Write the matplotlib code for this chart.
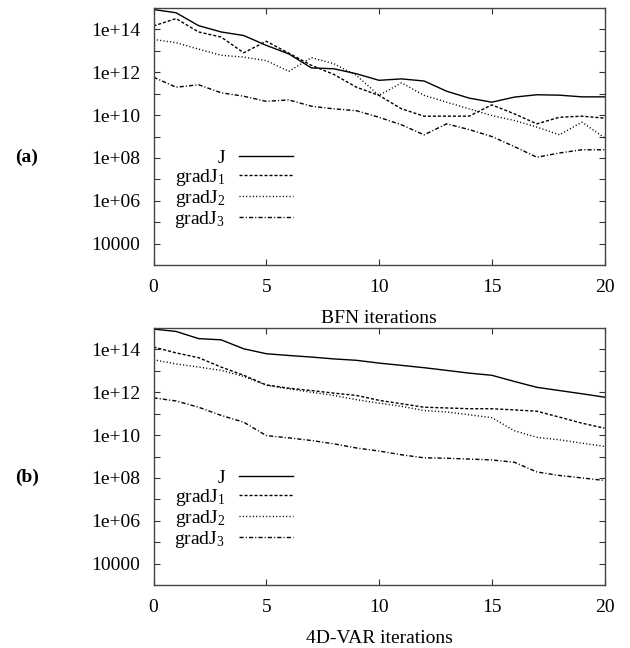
import numpy as np
import matplotlib
matplotlib.use("Agg")
import matplotlib.pyplot as plt
from matplotlib.ticker import FixedLocator, FuncFormatter, NullLocator

plt.rcParams['font.family'] = ['Liberation Serif', 'DejaVu Serif']
plt.rcParams['mathtext.fontset'] = 'custom'
plt.rcParams['mathtext.rm'] = 'Liberation Serif'
plt.rcParams['mathtext.it'] = 'Liberation Serif'
plt.rcParams['mathtext.bf'] = 'Liberation Serif:bold'

iterations = list(range(21))

# Panel (a): BFN
bfn_J = [8.5e14, 6.0e14, 1.5e14, 7.6e13, 5.2e13, 1.8e13, 7.2e12, 1.6e12, 1.45e12, 8.5e11,
         4.2e11, 4.9e11, 3.9e11, 1.3e11, 6.2e10, 4.0e10, 6.9e10, 8.9e10, 8.5e10, 7.1e10, 7.1e10]
bfn_g1 = [1.45e14, 3.2e14, 7.6e13, 4.4e13, 8.1e12, 2.8e13, 7.8e12, 2.1e12, 7.9e11, 2.0e11,
          8.3e10, 1.95e10, 8.9e9, 8.9e9, 8.9e9, 3.0e10, 1.15e10, 3.9e9, 7.9e9, 8.9e9, 7.2e9]
bfn_g2 = [3.4e13, 2.4e13, 1.2e13, 6.2e12, 5.1e12, 3.5e12, 1.1e12, 4.8e12, 2.5e12, 7.1e11,
          8.3e10, 3.2e11, 8.3e10, 4.0e10, 1.95e10, 9.5e9, 5.6e9, 2.75e9, 1.2e9, 4.7e9, 8.7e8]
bfn_g3 = [5.9e11, 2.0e11, 2.6e11, 1.1e11, 7.6e10, 4.4e10, 5.1e10, 2.6e10, 1.95e10, 1.6e10,
          7.9e9, 3.5e9, 1.2e9, 3.9e9, 2.1e9, 1.0e9, 3.4e8, 1.07e8, 1.7e8, 2.4e8, 2.4e8]

# Panel (b): 4D-VAR
var_J = [8.9e14, 6.9e14, 3.2e14, 2.8e14, 1.07e14, 6.3e13, 5.2e13, 4.4e13, 3.6e13, 3.1e13,
         2.3e13, 1.8e13, 1.4e13, 1.05e13, 7.8e12, 6.2e12, 3.2e12, 1.7e12, 1.2e12, 8.5e11, 5.9e11]
var_g1 = [1.3e14, 6.9e13, 4.1e13, 1.5e13, 6.2e12, 2.2e12, 1.55e12, 1.2e12, 9.1e11, 7.1e11,
          4.2e11, 2.9e11, 2.0e11, 1.85e11, 1.7e11, 1.7e11, 1.5e11, 1.3e11, 6.9e10, 3.6e10, 2.1e10]
var_g2 = [3.3e13, 2.1e13, 1.5e13, 1.05e13, 5.5e12, 2.1e12, 1.45e12, 1.0e12, 7.1e11, 4.5e11,
          3.1e11, 2.2e11, 1.4e11, 1.2e11, 8.9e10, 6.5e10, 1.6e10, 7.9e9, 6.0e9, 4.2e9, 2.95e9]
var_g3 = [5.5e11, 3.9e11, 2.0e11, 8.3e10, 4.0e10, 9.5e9, 7.4e9, 5.6e9, 3.9e9, 2.5e9,
          1.8e9, 1.2e9, 8.7e8, 8.3e8, 7.6e8, 6.9e8, 5.4e8, 1.9e8, 1.3e8, 1.0e8, 7.6e7]

series_labels = ['J', 'gradJ$_1$', 'gradJ$_2$', 'gradJ$_3$']
xticks = [0, 5, 10, 15, 20]
ytick_values = [1e4, 1e6, 1e8, 1e10, 1e12, 1e14]
ytick_labels = ['10000', '1e+06', '1e+08', '1e+10', '1e+12', '1e+14']
yminor_values = [1e5, 1e7, 1e9, 1e11, 1e13]
panel_tags = ['(a)', '(b)']
xlabels = ['BFN iterations', '4D-VAR iterations']

styles = [
    dict(linestyle='-'),
    dict(linestyle=(0, (2.2, 1.4))),
    dict(linestyle=(0, (0.8, 1.6))),
    dict(linestyle=(0, (3.0, 1.5, 0.8, 1.5))),
]

fig = plt.figure(figsize=(6.3, 6.48), dpi=100)
W, H = 630, 648
axes_boxes = [(153.5, 8, 604.5, 265), (153.5, 328, 604.5, 585)]
tag_y = [157, 477]
panels = [(bfn_J, bfn_g1, bfn_g2, bfn_g3), (var_J, var_g1, var_g2, var_g3)]

FS = 14
for k, (box, data) in enumerate(zip(axes_boxes, panels)):
    x0, y0, x1, y1 = box
    ax = fig.add_axes([x0 / W, 1 - y1 / H, (x1 - x0) / W, (y1 - y0) / H])
    for series, lab, st in zip(data, series_labels, styles):
        ax.plot(iterations, series, color='black', linewidth=1.0, label=lab, **st)
    ax.set_yscale('log')
    ax.set_xlim(0, 20)
    ax.set_ylim(1e3, 1e15)
    ax.xaxis.set_major_locator(FixedLocator(xticks))
    ax.xaxis.set_minor_locator(NullLocator())
    ax.yaxis.set_major_locator(FixedLocator(ytick_values))
    ax.yaxis.set_major_formatter(FuncFormatter(lambda v, p: ytick_labels[ytick_values.index(v)] if v in ytick_values else ''))
    ax.yaxis.set_minor_locator(FixedLocator(yminor_values))
    ax.yaxis.set_minor_formatter(FuncFormatter(lambda v, p: ''))
    ax.tick_params(which='both', direction='in', top=True, right=True, length=4.0,
                   width=0.8, labelsize=FS, color='#333333')
    ax.tick_params(axis='x', pad=10)
    ax.tick_params(axis='y', pad=9.5)
    for sp in ax.spines.values():
        sp.set_color('#444444')
        sp.set_linewidth(1.0)
    ax.set_xlabel(xlabels[k], fontsize=FS, labelpad=10.5)
    leg = ax.legend(loc='upper left', bbox_to_anchor=(0.025, 0.487), markerfirst=False,
                    frameon=False, fontsize=FS, handlelength=2.8, handletextpad=0.7,
                    labelspacing=0.0, borderpad=0.0)
    fig.text(27 / W, 1 - tag_y[k] / H, panel_tags[k], fontsize=FS, fontweight='bold',
             ha='center', va='center')

fig.savefig('out.png', dpi=100)
